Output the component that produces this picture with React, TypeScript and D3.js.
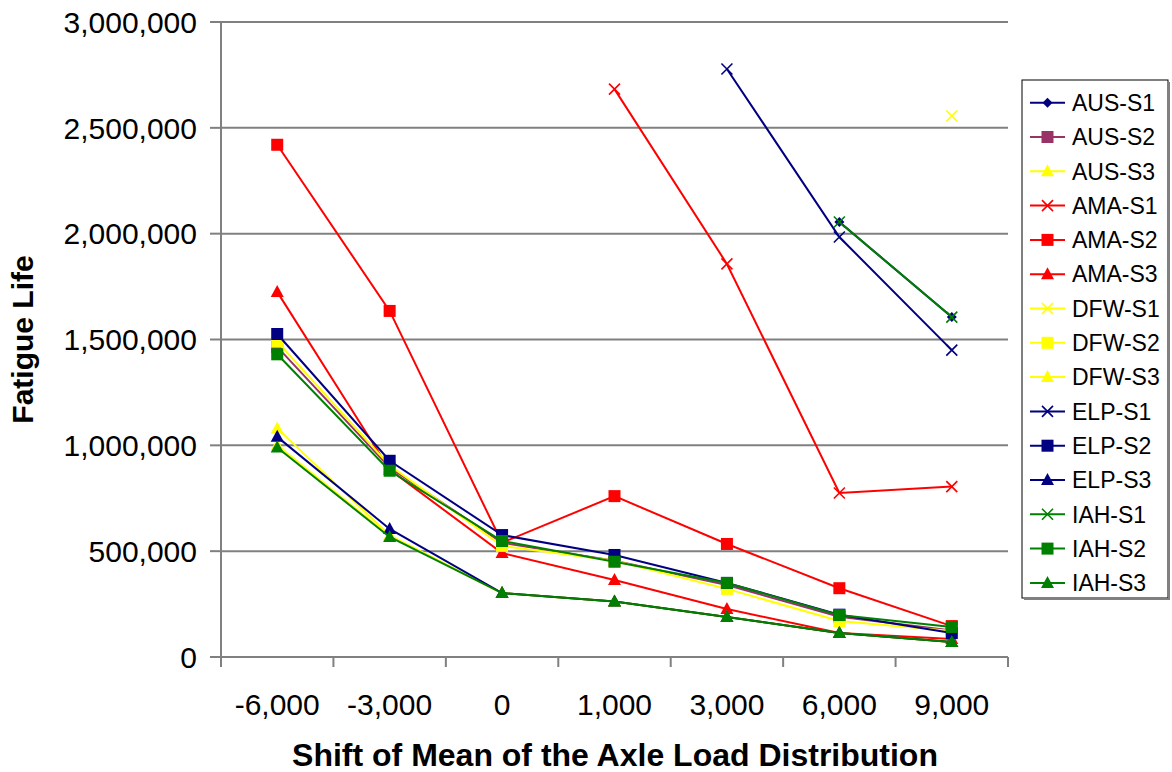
import * as d3 from "d3";
import React from "react";

const categories = ["-6,000", "-3,000", "0", "1,000", "3,000", "6,000", "9,000"];
const yTicks = [0, 500000, 1000000, 1500000, 2000000, 2500000, 3000000];

type V = number | null;
const ausS1: V[] = [null, null, null, null, null, 2055000, 1606000];
const ausS2: V[] = [1465000, 895000, 540000, 455000, 340000, 190000, 125000];
const ausS3: V[] = [1080000, 575000, 302000, 262000, 189000, 113000, 71000];
const amaS1: V[] = [null, null, null, 2683000, 1857000, 775000, 805000];
const amaS2: V[] = [2420000, 1635000, 540000, 760000, 534000, 325000, 146000];
const amaS3: V[] = [1725000, 885000, 491000, 364000, 227000, 113000, 85000];
const dfwS1: V[] = [null, null, null, null, null, null, 2556000];
const dfwS2: V[] = [1490000, 905000, 525000, 455000, 322000, 170000, 123000];
const dfwS3: V[] = [1000000, 572000, 302000, 262000, 189000, 113000, 71000];
const elpS1: V[] = [null, null, null, null, 2778000, 1984000, 1450000];
const elpS2: V[] = [1526000, 927000, 576000, 482000, 350000, 200000, 113000];
const elpS3: V[] = [1040000, 605000, 302000, 262000, 189000, 113000, 71000];
const iahS1: V[] = [null, null, null, null, null, 2055000, 1606000];
const iahS2: V[] = [1430000, 880000, 548000, 450000, 350000, 198000, 142000];
const iahS3: V[] = [990000, 567000, 302000, 262000, 189000, 113000, 71000];

const series = [
  { name: "AUS-S1", values: ausS1, color: "#000080", marker: "diamond" },
  { name: "AUS-S2", values: ausS2, color: "#993366", marker: "square" },
  { name: "AUS-S3", values: ausS3, color: "#FFFF00", marker: "triangle" },
  { name: "AMA-S1", values: amaS1, color: "#FF0000", marker: "x" },
  { name: "AMA-S2", values: amaS2, color: "#FF0000", marker: "square" },
  { name: "AMA-S3", values: amaS3, color: "#FF0000", marker: "triangle" },
  { name: "DFW-S1", values: dfwS1, color: "#FFFF00", marker: "x" },
  { name: "DFW-S2", values: dfwS2, color: "#FFFF00", marker: "square" },
  { name: "DFW-S3", values: dfwS3, color: "#FFFF00", marker: "triangle" },
  { name: "ELP-S1", values: elpS1, color: "#000080", marker: "x" },
  { name: "ELP-S2", values: elpS2, color: "#000080", marker: "square" },
  { name: "ELP-S3", values: elpS3, color: "#000080", marker: "triangle" },
  { name: "IAH-S1", values: iahS1, color: "#008000", marker: "x" },
  { name: "IAH-S2", values: iahS2, color: "#008000", marker: "square" },
  { name: "IAH-S3", values: iahS3, color: "#008000", marker: "triangle" },
];

const W = 1172;
const H = 772;
const plot = { left: 221, right: 1008, top: 22, bottom: 657 };
const font = "Arial, 'Liberation Sans', sans-serif";

function Marker({ type, x, y, color }: { type: string; x: number; y: number; color: string }) {
  if (type === "square")
    return <rect x={x - 6} y={y - 6} width={12} height={12} fill={color} />;
  if (type === "triangle")
    return <path d={`M${x},${y - 7}L${x + 6.5},${y + 5}L${x - 6.5},${y + 5}Z`} fill={color} />;
  if (type === "diamond")
    return <path d={`M${x},${y - 5}L${x + 5},${y}L${x},${y + 5}L${x - 5},${y}Z`} fill={color} />;
  // x mark
  return (
    <path
      d={`M${x - 5.5},${y - 5.5}L${x + 5.5},${y + 5.5}M${x + 5.5},${y - 5.5}L${x - 5.5},${y + 5.5}`}
      stroke={color}
      strokeWidth={1.6}
    />
  );
}

export default function App() {
  const x = d3.scaleBand<string>().domain(categories).range([plot.left, plot.right]);
  const y = d3.scaleLinear().domain([0, 3000000]).range([plot.bottom, plot.top]);
  const fmt = d3.format(",");
  const cx = (c: string) => (x(c) as number) + x.bandwidth() / 2;

  const line = d3
    .line<V>()
    .defined((d) => d !== null)
    .x((_, i) => cx(categories[i]))
    .y((d) => y(d as number));

  const legendX = 1022;
  const legendTop = 80;
  const legendStep = 34.3;

  return (
    <div style={{ position: "absolute", left: 0, top: 0 }}>
      <svg width={W} height={H} style={{ display: "block", background: "#fff" }} fontFamily={font}>
        {/* gridlines */}
        {yTicks.slice(1).map((t) => (
          <line key={t} x1={plot.left} x2={plot.right} y1={y(t)} y2={y(t)} stroke="#808080" strokeWidth={2} />
        ))}
        {/* y axis */}
        <line x1={plot.left} x2={plot.left} y1={plot.top} y2={plot.bottom} stroke="#808080" strokeWidth={2} />
        {yTicks.map((t) => (
          <g key={t}>
            <line x1={plot.left - 11} x2={plot.left} y1={y(t)} y2={y(t)} stroke="#808080" strokeWidth={2} />
            <text x={plot.left - 24} y={y(t)} dy="0.36em" textAnchor="end" fontSize={30}>
              {fmt(t)}
            </text>
          </g>
        ))}
        {/* x axis */}
        <line x1={plot.left} x2={plot.right} y1={plot.bottom} y2={plot.bottom} stroke="#808080" strokeWidth={2} />
        {categories.map((c) => (
          <line
            key={"t" + c}
            x1={x(c)}
            x2={x(c)}
            y1={plot.bottom}
            y2={plot.bottom + 10}
            stroke="#808080"
            strokeWidth={2}
          />
        ))}
        <line x1={plot.right} x2={plot.right} y1={plot.bottom} y2={plot.bottom + 10} stroke="#808080" strokeWidth={2} />
        {categories.map((c) => (
          <text key={"l" + c} x={cx(c)} y={715} textAnchor="middle" fontSize={30}>
            {c}
          </text>
        ))}
        {/* series */}
        {series.map((s) => (
          <g key={s.name}>
            <path d={line(s.values) || ""} fill="none" stroke={s.color} strokeWidth={2} />
            {s.values.map((v, i) =>
              v === null ? null : (
                <Marker key={i} type={s.marker} x={cx(categories[i])} y={y(v)} color={s.color} />
              )
            )}
          </g>
        ))}
        {/* axis titles */}
        <text
          transform={`translate(33,${(plot.top + plot.bottom) / 2}) rotate(-90)`}
          textAnchor="middle"
          fontSize={30}
          fontWeight="bold"
        >
          Fatigue Life
        </text>
        <text x={615} y={766} textAnchor="middle" fontSize={32} fontWeight="bold">
          Shift of Mean of the Axle Load Distribution
        </text>
        {/* legend */}
        <rect x={legendX} y={legendTop} width={146} height={518} fill="#fff" stroke="#000" strokeWidth={1} />
        <rect x={legendX + 146} y={legendTop + 2} width={2} height={518} fill="#808080" />
        <rect x={legendX + 2} y={legendTop + 518} width={146} height={2} fill="#808080" />
        {series.map((s, i) => {
          const ly = legendTop + 22.7 + i * legendStep;
          return (
            <g key={"lg" + s.name}>
              <line x1={legendX + 8} x2={legendX + 43} y1={ly} y2={ly} stroke={s.color} strokeWidth={2} />
              <Marker type={s.marker} x={legendX + 25.5} y={ly} color={s.color} />
              <text x={legendX + 50} y={ly} dy="0.36em" fontSize={23}>
                {s.name}
              </text>
            </g>
          );
        })}
      </svg>
    </div>
  );
}
